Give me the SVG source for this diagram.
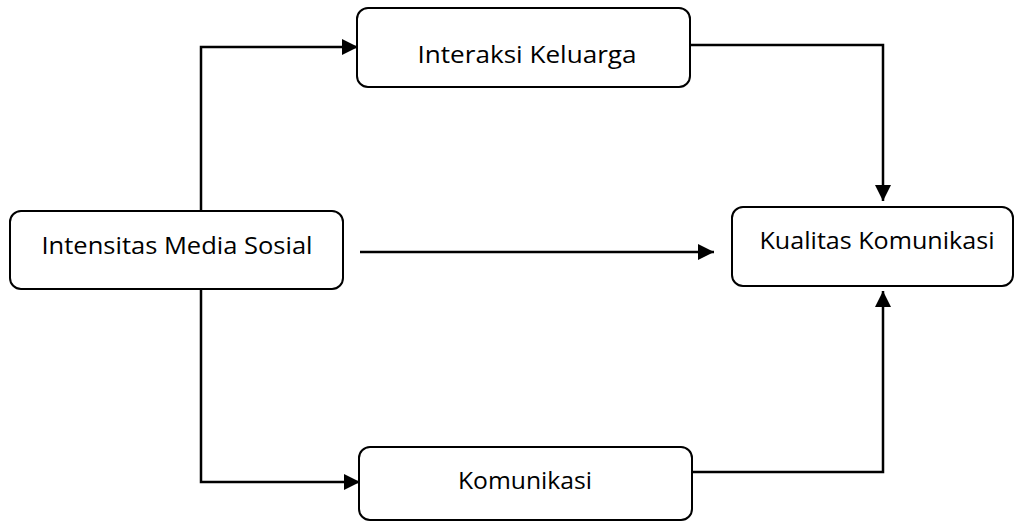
<svg xmlns="http://www.w3.org/2000/svg" width="1016" height="522" viewBox="0 0 1016 522">
<style>
.box{fill:#fff;stroke:#000;stroke-width:2}
.lbl{font-family:"Open Sans","Noto Sans",sans-serif;font-size:24px;fill:#000;text-anchor:middle}
.con{fill:none;stroke:#000;stroke-width:2.5}
</style>
<defs>
<marker id="ah" viewBox="0 0 16 16" refX="16" refY="8" markerWidth="16" markerHeight="16" markerUnits="userSpaceOnUse" orient="auto">
<path d="M0,0 L16,8 L0,16 Z" fill="#000"/>
</marker>
</defs>
<rect width="1016" height="522" fill="#fff"/>
<g id="connectors">
<polyline class="con" points="201,211 201,47 358,47" marker-end="url(#ah)"/>
<polyline class="con" points="201,289 201,482 360,482" marker-end="url(#ah)"/>
<line class="con" x1="360" y1="252" x2="714" y2="252" marker-end="url(#ah)"/>
<polyline class="con" points="690,45 883,45 883,201" marker-end="url(#ah)"/>
<polyline class="con" points="692,472 883,472 883,291" marker-end="url(#ah)"/>
</g>
<g id="intensitas">
<rect class="box" x="10" y="211" width="333" height="78" rx="11"/>
<text class="lbl" x="177" y="254" textLength="271" lengthAdjust="spacingAndGlyphs">Intensitas Media Sosial</text>
</g>
<g id="interaksi">
<rect class="box" x="357" y="8" width="333" height="79" rx="11"/>
<text class="lbl" x="527" y="63" textLength="219" lengthAdjust="spacingAndGlyphs">Interaksi Keluarga</text>
</g>
<g id="kualitas">
<rect class="box" x="732" y="207" width="281" height="79" rx="11"/>
<text class="lbl" x="877" y="249" textLength="235" lengthAdjust="spacingAndGlyphs">Kualitas Komunikasi</text>
</g>
<g id="komunikasi">
<rect class="box" x="359" y="447" width="333" height="73" rx="11"/>
<text class="lbl" x="525" y="489" textLength="134" lengthAdjust="spacingAndGlyphs">Komunikasi</text>
</g>
</svg>
